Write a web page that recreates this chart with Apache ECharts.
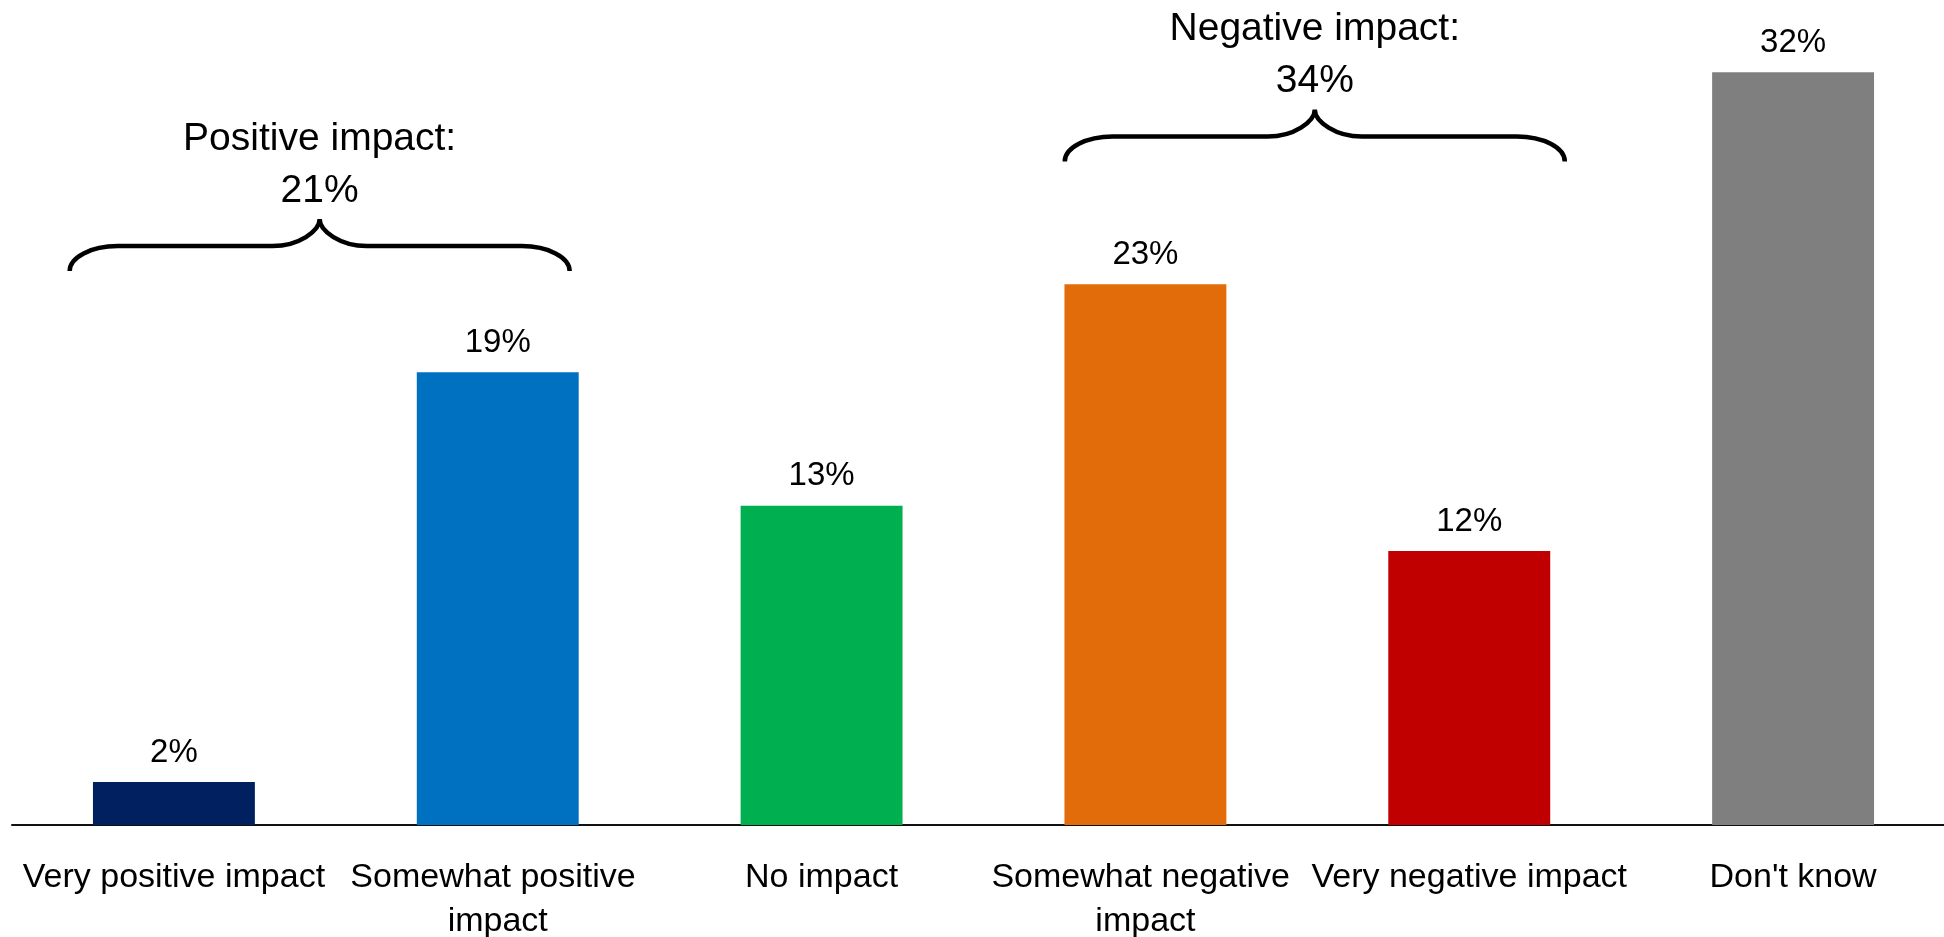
<!DOCTYPE html>
<html>
<head>
<meta charset="utf-8">
<script src="https://cdn.jsdelivr.net/npm/echarts@6/dist/echarts.min.js"></script>
<style>
html,body{margin:0;padding:0;background:#fff;}
#chart{width:1944px;height:937px;}
</style>
</head>
<body>
<div id="chart"></div>
<script>
// ---- data ----
const categories = ['Very positive impact', 'Somewhat positive impact', 'No impact', 'Somewhat negative impact', 'Very negative impact', "Don't know"];
const values = [1.8, 19.0, 13.4, 22.7, 11.5, 31.6];
const barColors = ['#002060', '#0070C0', '#00B050', '#E36C0A', '#C00000', '#7F7F7F'];
const groupNames = ['Positive impact:', 'Negative impact:'];
const groupStart = [0, 3];
const groupEnd = [1, 4];

// ---- annotation layout (value units on y, band units on x) ----
const braceLevels = [23.25, 27.85];
const braceShift = [-0.05, 0.023];

const FONT = '"Liberation Sans", Arial, sans-serif';

const groupTotals = groupStart.map((s, i) => {
  let t = 0;
  for (let k = s; k <= groupEnd[i]; k++) t += values[k];
  return Math.round(t);
});
const braceData = groupStart.map((s, i) => [s, groupEnd[i], braceLevels[i], groupTotals[i]]);

const chart = echarts.init(document.getElementById('chart'), null, {renderer: 'canvas'});

function renderBrace(params, api) {
  const i = params.dataIndex;
  const s = api.value(0), e = api.value(1), lvl = api.value(2);
  const a = api.coord([s, lvl]);
  const b = api.coord([e, lvl]);
  const band = api.size([1, 0])[0];
  const cx = (a[0] + b[0]) / 2 + braceShift[i] * band;
  const half = 0.772 * band;
  const tipY = a[1];
  const ry = 25, rx = 48;
  const lineY = tipY - ry;
  const peakY = lineY - 27;
  const rx2 = 47, ry2 = lineY - peakY;
  const k = 0.5523;
  const L = cx - half, R = cx + half;
  const d = [
    'M', L, tipY,
    'C', L, tipY - ry * k, L + rx * (1 - k), lineY, L + rx, lineY,
    'L', cx - rx2, lineY,
    'C', cx - rx2 + rx2 * k, lineY, cx, peakY + ry2 * (1 - k), cx, peakY,
    'C', cx, peakY + ry2 * (1 - k), cx + rx2 - rx2 * k, lineY, cx + rx2, lineY,
    'L', R - rx, lineY,
    'C', R - rx * (1 - k), lineY, R, tipY - ry * k, R, tipY
  ].join(' ');
  return {
    type: 'group',
    children: [
      {
        type: 'path',
        shape: {pathData: d},
        style: {stroke: '#000', lineWidth: 4.5, fill: null}
      },
      {
        type: 'text',
        x: cx,
        y: peakY - 2,
        style: {
          text: groupNames[i] + '\n' + api.value(3) + '%',
          fill: '#000',
          fontSize: 39,
          fontFamily: FONT,
          lineHeight: 52,
          align: 'center',
          verticalAlign: 'bottom'
        }
      }
    ]
  };
}

const option = {
  animation: false,
  backgroundColor: '#fff',
  grid: {left: 12, right: -11, top: 15, bottom: 112, containLabel: false, outerBoundsMode: 'none'},
  xAxis: {
    type: 'category',
    data: categories,
    axisTick: {show: false},
    axisLine: {show: true, lineStyle: {color: '#111', width: 2}},
    axisLabel: {
      interval: 0,
      margin: 31,
      color: '#000',
      fontSize: 34,
      fontFamily: FONT,
      lineHeight: 44,
      width: 323,
      overflow: 'break',
      hideOverlap: false
    }
  },
  yAxis: {
    type: 'value',
    min: 0,
    max: 34,
    show: false,
    splitLine: {show: false}
  },
  series: [
    {
      type: 'bar',
      barWidth: '50%',
      data: values.map((v, i) => ({value: v, itemStyle: {color: barColors[i]}})),
      label: {
        show: true,
        position: 'top',
        distance: 13,
        color: '#000',
        fontSize: 33,
        fontFamily: FONT,
        formatter: p => Math.round(p.value) + '%'
      }
    },
    {
      type: 'custom',
      renderItem: renderBrace,
      clip: false,
      encode: {x: [0, 1], y: 2},
      data: braceData,
      z: 5
    }
  ]
};

chart.setOption(option);
</script>
</body>
</html>
